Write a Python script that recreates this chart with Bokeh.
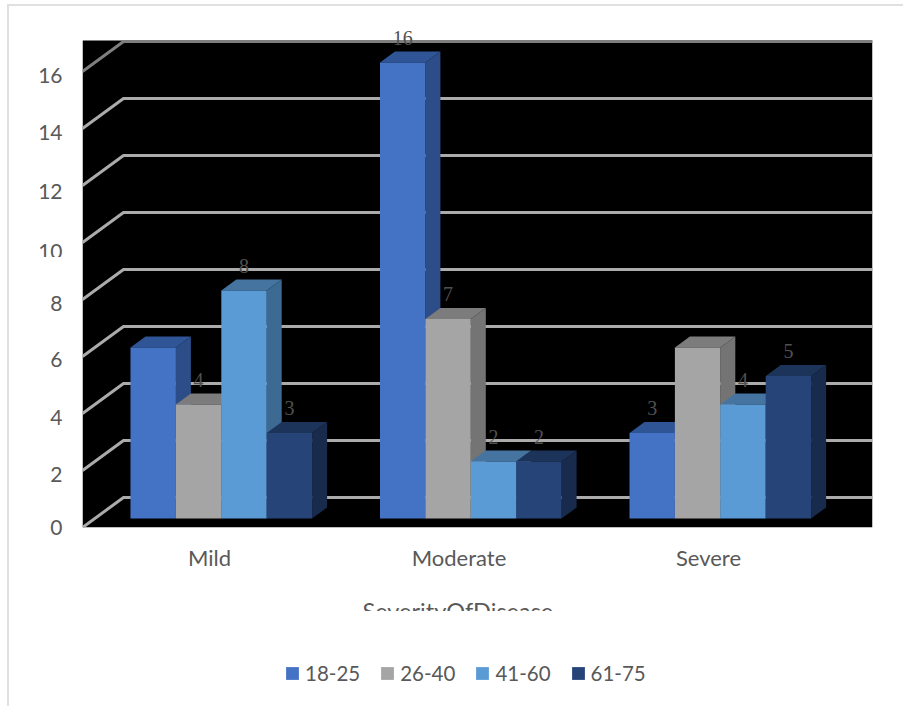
from bokeh.embed import file_html
from bokeh.layouts import column
from bokeh.models import (ColumnDataSource, FixedTicker, InlineStyleSheet, LabelSet,
                          Legend, LegendItem, Range1d, Title)
from bokeh.plotting import figure
from bokeh.resources import INLINE

# Patients per age band and severity of disease
categories = ["Mild", "Moderate", "Severe"]
age_bands = ["18-25", "26-40", "41-60", "61-75"]
counts = {
    "18-25": [6, 16, 3],
    "26-40": [4, 7, 6],
    "41-60": [8, 2, 4],
    "61-75": [3, 2, 5],
}
# Bars of this height are left without a value label
unlabelled_value = 6
y_ticks = [0, 2, 4, 6, 8, 10, 12, 14, 16]
# Where each tick label is set on the value scale; labels drift a little off their rules
y_label_positions = [0, 1.87, 3.86, 5.9, 7.85, 9.68, 11.78, 13.86, 15.85]

front_colors = ["#4472C4", "#A5A5A5", "#5B9BD5", "#264478"]
top_colors = ["#2F5597", "#7C7C7C", "#44749F", "#1C335A"]
side_colors = ["#2C4D88", "#747474", "#3D6A93", "#182B4D"]

FONT = "Lato"
TEXT = "#595959"
LABEL_TEXT = "#505050"
W, H = 903, 706
CHART_H = 660
LEFT, RIGHT, TOP, BOTTOM = 82, 872, 40, 527

PX_PER_CAT = 249.5
PX_PER_UNIT = 28.5
CAT0_PX = 209.0

# Oblique projection of the 3-D box, expressed in axis units
DX = 15 / PX_PER_CAT
DY = 11 / PX_PER_UNIT
WALL_DX = 41 / PX_PER_CAT
WALL_DY = 30 / PX_PER_UNIT
FLOOR = 9 / PX_PER_UNIT
BAR_W = 45.4 / PX_PER_CAT
GROUP_START = -79 / PX_PER_CAT

x0 = (LEFT - CAT0_PX) / PX_PER_CAT
x1 = (RIGHT - CAT0_PX) / PX_PER_CAT
wall_top = (BOTTOM - TOP) / PX_PER_UNIT
y1 = BOTTOM / PX_PER_UNIT

# The frame runs to the canvas top so that labels may rise above the black panel
p = figure(width=W, height=CHART_H, output_backend="svg", toolbar_location=None,
           x_range=Range1d(x0, x1), y_range=Range1d(0, y1),
           min_border_left=LEFT, min_border_right=W - RIGHT,
           min_border_top=0, min_border_bottom=CHART_H - BOTTOM,
           background_fill_color="#FFFFFF", border_fill_color="#FFFFFF",
           outline_line_color=None)
p.grid.visible = False

p.quad(left=[x0], right=[x1], bottom=[0], top=[wall_top], fill_color="#000000", line_color=None)

# Back wall and side wall rules
grid_xs = [[x0, x0 + WALL_DX, x1] for _ in y_ticks]
grid_ys = [[v, v + WALL_DY, v + WALL_DY] for v in y_ticks]
grid_colors = ["#ABABAB"] * (len(y_ticks) - 1) + ["#7F7F7F"]
p.multi_line(grid_xs, grid_ys, line_color=grid_colors, line_width=3)

# Bars, painted left to right so each front face hides its neighbour's side
for s, band in enumerate(age_bands):
    lefts = [i + GROUP_START + s * BAR_W for i in range(len(categories))]
    rights = [l + BAR_W for l in lefts]
    tops = [FLOOR + v for v in counts[band]]
    p.patches([[r, r + DX, r + DX, r] for r in rights],
              [[FLOOR, FLOOR + DY, t + DY, t] for t in tops],
              fill_color=side_colors[s], line_color=None)
    p.patches([[l, l + DX, r + DX, r] for l, r in zip(lefts, rights)],
              [[t, t + DY, t + DY, t] for t in tops],
              fill_color=top_colors[s], line_color=None)
    p.quad(left=lefts, right=rights, bottom=FLOOR, top=tops,
           fill_color=front_colors[s], line_color=None)

# Value labels above the front face of each bar
for s, band in enumerate(age_bands):
    src = ColumnDataSource(dict(
        x=[i + GROUP_START + (s + 0.5) * BAR_W for i in range(len(categories))],
        y=[FLOOR + v for v in counts[band]],
        t=["" if v == unlabelled_value else str(v) for v in counts[band]],
    ))
    p.add_layout(LabelSet(x="x", y="y", text="t", source=src, y_offset=25,
                          text_align="center", text_baseline="middle",
                          text_font=FONT, text_font_size="20px", text_color=LABEL_TEXT))

# Axes
p.yaxis.ticker = FixedTicker(ticks=y_label_positions)
p.yaxis.major_label_overrides = {pos: str(v) for pos, v in zip(y_label_positions, y_ticks)}
p.xaxis.ticker = FixedTicker(ticks=list(range(len(categories))))
p.xaxis.major_label_overrides = {i: c for i, c in enumerate(categories)}
for ax in (p.xaxis, p.yaxis):
    ax.axis_line_color = None
    ax.major_tick_line_color = None
    ax.minor_tick_line_color = None
    ax.major_label_text_font = FONT
    ax.major_label_text_color = TEXT
p.yaxis.major_label_text_font_size = "21px"
p.xaxis.major_label_text_font_size = "22px"
p.yaxis.major_label_standoff = 14
p.xaxis.major_label_standoff = 10

p.add_layout(Title(text="SeverityOfDisease", align="left", offset=280, standoff=43,
                   text_font=FONT, text_font_style="normal", text_font_size="23.5px",
                   text_color=TEXT), "below")

# Legend strip beneath the chart; its swatch glyphs sit outside the visible range
strip = figure(width=W, height=H - CHART_H, output_backend="svg", toolbar_location=None,
               x_range=Range1d(0, 1), y_range=Range1d(0, 1), min_border=0,
               background_fill_color="#FFFFFF", border_fill_color="#FFFFFF",
               outline_line_color=None)
strip.axis.visible = False
strip.grid.visible = False
swatches = [strip.quad(left=[2], right=[3], bottom=[2], top=[3], fill_color=c, line_color=None)
            for c in front_colors]
strip.add_layout(Legend(
    items=[LegendItem(label=b, renderers=[r]) for b, r in zip(age_bands, swatches)],
    orientation="horizontal", location=(202, 21),
    background_fill_alpha=0, border_line_color=None,
    glyph_width=16, glyph_height=16, spacing=19, label_standoff=5,
    margin=0, padding=0, label_text_font=FONT, label_text_font_size="20.5px",
    label_text_color=TEXT))

page = column(p, strip, spacing=0)

# Sheet over the page: white strips that cut off the "10" label and the axis
# title, and the thin grey edge of the chart area
page.stylesheets = [InlineStyleSheet(css=f"""
:host {{ position: relative; }}
:host::after {{
  content: ""; position: absolute; left: 0; top: 0; width: {W}px; height: {H}px;
  z-index: 10; pointer-events: none;
  background:
    linear-gradient(#E0E0E0, #E0E0E0) 7px 4px / {W}px 2px no-repeat,
    linear-gradient(#E0E0E0, #E0E0E0) 7px 4px / 2px {H}px no-repeat,
    linear-gradient(#FFF, #FFF) 20px 257px / 60px 14px no-repeat,
    linear-gradient(#FFF, #FFF) 330px 611px / 260px 45px no-repeat;
}}
""")]

open("out.html", "w").write(file_html(page, INLINE))
